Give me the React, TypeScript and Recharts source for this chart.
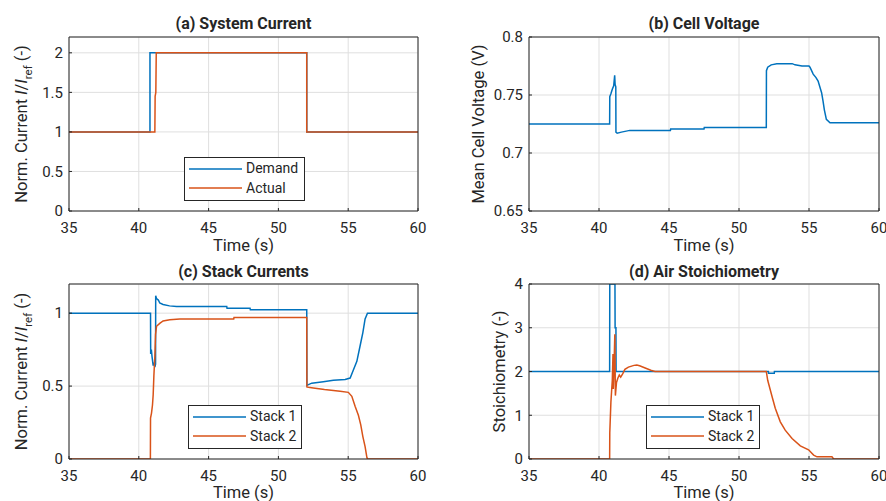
import React from 'react';
import { LineChart, Line, XAxis, YAxis, CartesianGrid, Legend } from 'recharts';

const BLUE = '#0072BD';
const ORANGE = '#D95319';
const INK = '#262626';
const GRID = '#dfdfdf';
const FONT = 'Roboto, "Liberation Sans", Arial, sans-serif';
const TICK_FS = 15;
const LABEL_FS = 16.5;
const TITLE_FS = 16;

const timeTicks = [35, 40, 45, 50, 55, 60];

// (a) System current
const demandT = [35, 40.8, 40.8, 52.03, 52.03, 60];
const demandV = [1, 1, 2, 2, 1, 1];
const actualT = [35, 41.15, 41.17, 41.22, 41.25, 52.03, 52.03, 60];
const actualV = [1, 1, 1.45, 1.5, 2, 2, 1, 1];

// (b) Mean cell voltage
const voltT = [35, 40.76, 40.77, 40.85, 40.95, 41.05, 41.12, 41.15, 41.2, 41.21, 41.3, 41.6, 42.2, 45.1, 45.12, 47.5, 47.52, 51.95, 51.96, 52.05, 52.3, 52.7, 53.8, 54.0, 54.5, 55.0, 55.07, 55.3, 55.5, 55.65, 55.9, 56.0, 56.1, 56.24, 56.5, 60];
const voltV = [0.725, 0.725, 0.7485, 0.751, 0.755, 0.758, 0.767, 0.759, 0.757, 0.718, 0.717, 0.718, 0.7195, 0.7195, 0.7207, 0.7207, 0.7219, 0.7219, 0.771, 0.774, 0.776, 0.777, 0.777, 0.776, 0.775, 0.775, 0.774, 0.768, 0.765, 0.762, 0.752, 0.745, 0.737, 0.729, 0.726, 0.726];

// (c) Stack currents
const st1T = [35, 40.84, 40.85, 40.9, 40.95, 41.03, 41.08, 41.15, 41.2, 41.21, 41.27, 41.4, 41.5, 41.74, 42.2, 42.7, 46.3, 46.32, 47.97, 47.99, 52.03, 52.04, 52.15, 52.39, 53.22, 53.94, 54.78, 55.14, 55.37, 55.62, 55.85, 56.05, 56.21, 56.38, 60];
const st1V = [1, 1, 0.72, 0.75, 0.7, 0.64, 0.66, 0.63, 0.65, 1.12, 1.1, 1.09, 1.07, 1.06, 1.05, 1.046, 1.046, 1.033, 1.033, 1.023, 1.023, 0.505, 0.51, 0.52, 0.53, 0.54, 0.545, 0.555, 0.61, 0.67, 0.775, 0.867, 0.96, 1.0, 1.0];
const st2T = [35, 40.83, 40.84, 40.91, 40.98, 41.03, 41.08, 41.15, 41.2, 41.27, 41.5, 41.74, 42.22, 42.94, 46.8, 46.82, 52.03, 52.04, 52.15, 52.5, 53.3, 54.42, 55.01, 55.26, 55.5, 55.73, 55.9, 56.05, 56.21, 56.34, 56.38, 60];
const st2V = [0, 0, 0.28, 0.315, 0.37, 0.44, 0.57, 0.705, 0.855, 0.91, 0.93, 0.947, 0.955, 0.96, 0.96, 0.97, 0.97, 0.494, 0.492, 0.487, 0.476, 0.464, 0.457, 0.43, 0.36, 0.3, 0.234, 0.154, 0.085, 0.01, 0, 0];

// (d) Air stoichiometry
const air1T = [35, 40.76, 40.77, 41.14, 41.15, 41.21, 41.22, 52.1, 52.11, 52.52, 52.53, 60];
const air1V = [2, 2, 4, 4, 3.0, 3.0, 2, 2, 1.96, 1.96, 2, 2];
const air2T = [35, 40.76, 40.77, 40.85, 40.95, 41.0, 41.02, 41.08, 41.13, 41.17, 41.25, 41.35, 41.45, 41.55, 41.7, 41.85, 42.1, 42.5, 42.7, 42.9, 43.3, 43.7, 44.0, 51.95, 52.05, 52.36, 52.59, 52.95, 53.3, 53.79, 54.38, 54.97, 55.33, 55.57, 56.64, 56.76, 60];
const air2V = [0, 0, 0.6, 1.3, 1.8, 2.4, 1.6, 2.2, 2.85, 1.45, 1.75, 1.85, 1.92, 1.87, 1.95, 2.05, 2.1, 2.14, 2.15, 2.13, 2.08, 2.03, 2.0, 2.0, 1.8, 1.43, 1.16, 0.85, 0.66, 0.47, 0.3, 0.21, 0.09, 0.05, 0.05, 0, 0];

const toPts = (ts: number[], vs: number[]) => ts.map((t, i) => ({ t, v: vs[i] }));

type Series = { name: string; color: string; t: number[]; v: number[] };
type Rect = { top: number; right: number; bottom: number; left: number };

type PanelProps = {
  x: number;
  y: number;
  w: number;
  h: number;
  plot: Rect; // distances from chart edges to plot box
  yDomain: [number, number];
  yTicks: number[];
  title: string;
  titleY: number;
  xLabelY: number;
  yLabelX: number;
  yLabel: React.ReactNode;
  series: Series[];
  legend?: { left: number; top: number; width: number };
};

const AX_BOTTOM = 30;
const AX_TOP = 20;
const AX_LEFT = 40;
const AX_RIGHT = 5;

const LegendBox = ({ series, width }: { series: Series[]; width: number }) => (
  <div
    style={{
      width,
      boxSizing: 'border-box',
      border: `1px solid ${INK}`,
      background: '#fff',
      padding: '1px 0 2px 0',
      fontFamily: FONT,
      fontSize: 14,
      color: INK,
      lineHeight: '19.5px',
    }}
  >
    {series.map((s) => (
      <div key={s.name} style={{ display: 'flex', alignItems: 'center', height: 19.5 }}>
        <svg width={61} height={10} style={{ display: 'block', flex: 'none' }}>
          <line x1={4} x2={57} y1={5} y2={5} stroke={s.color} strokeWidth={1.5} />
        </svg>
        <span style={{ whiteSpace: 'nowrap' }}>{s.name}</span>
      </div>
    ))}
  </div>
);

const tickStyle = { fill: INK, fontSize: TICK_FS, fontFamily: FONT };

const Panel = (p: PanelProps) => {
  const plotW = p.w - p.plot.left - p.plot.right;
  const plotH = p.h - p.plot.top - p.plot.bottom;
  const cx = p.plot.left + plotW / 2;
  const cy = p.plot.top + plotH / 2;
  const margin = {
    top: p.plot.top - AX_TOP,
    right: p.plot.right - AX_RIGHT,
    bottom: p.plot.bottom - AX_BOTTOM,
    left: p.plot.left - AX_LEFT,
  };
  return (
    <div style={{ position: 'absolute', left: p.x, top: p.y, width: p.w, height: p.h }}>
      <LineChart width={p.w} height={p.h} margin={margin} style={{ fontFamily: FONT }}>
        <CartesianGrid stroke={GRID} strokeWidth={1} />
        <XAxis
          type="number"
          dataKey="t"
          domain={[35, 60]}
          ticks={timeTicks}
          allowDataOverflow
          height={AX_BOTTOM}
          stroke={INK}
          tickSize={-3}
          tickMargin={14}
          tick={tickStyle}
          interval={0}
          label={{
            content: () => (
              <text x={cx} y={p.xLabelY} textAnchor="middle" fontSize={LABEL_FS} fill={INK} fontFamily={FONT}>
                Time (s)
              </text>
            ),
          }}
        />
        <XAxis
          xAxisId="top"
          orientation="top"
          type="number"
          domain={[35, 60]}
          ticks={timeTicks}
          height={AX_TOP}
          stroke={INK}
          tickSize={-3}
          tickFormatter={() => ''}
          interval={0}
          label={{
            content: () => (
              <text x={cx} y={p.titleY} textAnchor="middle" fontSize={TITLE_FS} fontWeight="bold" fill={INK} fontFamily={FONT}>
                {p.title}
              </text>
            ),
          }}
        />
        <YAxis
          type="number"
          domain={p.yDomain}
          ticks={p.yTicks}
          allowDataOverflow
          width={AX_LEFT}
          stroke={INK}
          tickSize={-3}
          tickMargin={9}
          tick={tickStyle}
          interval={0}
          label={{
            content: () => (
              <text
                x={p.yLabelX}
                y={cy}
                transform={`rotate(-90 ${p.yLabelX} ${cy})`}
                textAnchor="middle"
                fontSize={LABEL_FS}
                fill={INK}
                fontFamily={FONT}
              >
                {p.yLabel}
              </text>
            ),
          }}
        />
        <YAxis
          yAxisId="right"
          orientation="right"
          type="number"
          domain={p.yDomain}
          ticks={p.yTicks}
          width={AX_RIGHT}
          stroke={INK}
          tickSize={-3}
          tickFormatter={() => ''}
          interval={0}
        />
        {p.series.map((s) => (
          <Line
            key={s.name}
            data={toPts(s.t, s.v)}
            dataKey="v"
            type="linear"
            stroke={s.color}
            strokeWidth={1.5}
            dot={false}
            activeDot={false}
            isAnimationActive={false}
          />
        ))}
        {p.legend && (
          <Legend
            layout="vertical"
            align="center"
            verticalAlign="middle"
            wrapperStyle={{ left: p.legend.left, top: p.legend.top, width: p.legend.width, height: 44 }}
            content={() => <LegendBox series={p.series} width={p.legend!.width} />}
          />
        )}
      </LineChart>
    </div>
  );
};

const currentLabel = (
  <>
    Norm. Current <tspan fontStyle="italic">I</tspan>/<tspan fontStyle="italic">I</tspan>
    <tspan fontSize={11.5} dy={4.5}>
      ref
    </tspan>
    <tspan dy={-4.5}> (-)</tspan>
  </>
);

export default function App() {
  return (
    <div style={{ position: 'absolute', left: 0, top: 0, width: 886, height: 501, background: '#fff', overflow: 'hidden' }}>
      <Panel
        x={0}
        y={0}
        w={443}
        h={262}
        plot={{ top: 37, right: 25, bottom: 51, left: 69 }}
        yDomain={[0, 2.2]}
        yTicks={[0, 0.5, 1, 1.5, 2]}
        title="(a) System Current"
        titleY={28.5}
        xLabelY={250.5}
        yLabelX={27}
        yLabel={currentLabel}
        series={[
          { name: 'Demand', color: BLUE, t: demandT, v: demandV },
          { name: 'Actual', color: ORANGE, t: actualT, v: actualV },
        ]}
        legend={{ left: 184, top: 157, width: 121 }}
      />
      <Panel
        x={443}
        y={0}
        w={443}
        h={262}
        plot={{ top: 37, right: 7, bottom: 51, left: 86 }}
        yDomain={[0.65, 0.8]}
        yTicks={[0.65, 0.7, 0.75, 0.8]}
        title="(b) Cell Voltage"
        titleY={28.5}
        xLabelY={250.5}
        yLabelX={41}
        yLabel="Mean Cell Voltage (V)"
        series={[{ name: 'Voltage', color: BLUE, t: voltT, v: voltV }]}
      />
      <Panel
        x={0}
        y={250}
        w={443}
        h={251}
        plot={{ top: 34, right: 25, bottom: 42, left: 69 }}
        yDomain={[0, 1.2]}
        yTicks={[0, 0.5, 1]}
        title="(c) Stack Currents"
        titleY={26.5}
        xLabelY={247.5}
        yLabelX={27}
        yLabel={currentLabel}
        series={[
          { name: 'Stack 1', color: BLUE, t: st1T, v: st1V },
          { name: 'Stack 2', color: ORANGE, t: st2T, v: st2V },
        ]}
        legend={{ left: 188, top: 155, width: 114 }}
      />
      <Panel
        x={443}
        y={250}
        w={443}
        h={251}
        plot={{ top: 34, right: 7, bottom: 42, left: 86 }}
        yDomain={[0, 4]}
        yTicks={[0, 1, 2, 3, 4]}
        title="(d) Air Stoichiometry"
        titleY={26.5}
        xLabelY={247.5}
        yLabelX={62}
        yLabel="Stoichiometry (-)"
        series={[
          { name: 'Stack 1', color: BLUE, t: air1T, v: air1V },
          { name: 'Stack 2', color: ORANGE, t: air2T, v: air2V },
        ]}
        legend={{ left: 203, top: 155, width: 114 }}
      />
    </div>
  );
}
